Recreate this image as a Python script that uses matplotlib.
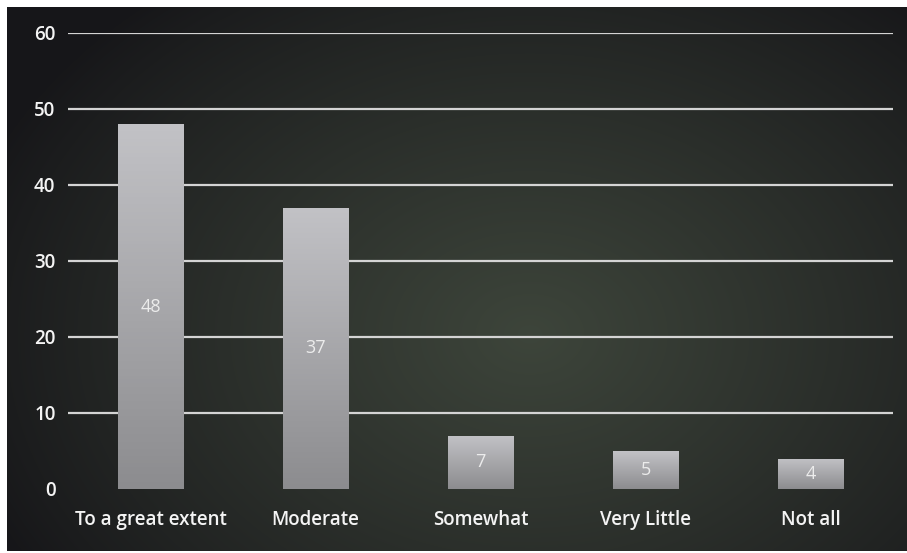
import numpy as np
import matplotlib
matplotlib.use("Agg")
import matplotlib.pyplot as plt

categories = ["To a great extent", "Moderate", "Somewhat", "Very Little", "Not all"]
values = [48, 37, 7, 5, 4]
yticks = [0, 10, 20, 30, 40, 50, 60]

plt.rcParams['font.family'] = ['Open Sans', 'DejaVu Sans']

fig = plt.figure(figsize=(9.07, 5.53), dpi=100, facecolor="white")

# dark panel with a soft greenish glow in the middle
bg = fig.add_axes([7 / 907, 2 / 553, 900 / 907, 544 / 553])
bg.set_axis_off()
h, w = 272, 450
yy, xx = np.mgrid[0:h, 0:w]
r = np.sqrt(((xx - w * 0.58) / (w * 0.65)) ** 2 + ((yy - h * 0.6) / (h * 0.8)) ** 2)
t = np.clip(1 - r, 0, 1) ** 0.9
edge = np.array([0.09, 0.09, 0.10])
center = np.array([0.24, 0.27, 0.23])
img = edge + (center - edge) * t[..., None]
bg.imshow(img, aspect="auto", extent=[0, 1, 0, 1], interpolation="bilinear")
bg.set_xlim(0, 1)
bg.set_ylim(0, 1)

ax = fig.add_axes([68 / 907, 64 / 553, 825 / 907, 456 / 553])
ax.patch.set_alpha(0)
x = np.arange(len(categories))
bars = ax.bar(x, values, width=0.4, color="#a0a0a4", zorder=3)

# vertical grey gradient inside each bar
grad = np.linspace(0.76, 0.55, 100)[:, None]
for b in bars:
    bx, by = b.get_x(), b.get_y()
    bw, bh = b.get_width(), b.get_height()
    im = ax.imshow(np.dstack([grad, grad, grad * 1.02]).clip(0, 1), aspect="auto",
                   extent=[bx, bx + bw, by, by + bh], zorder=3.5)
    im.set_clip_path(b)

for xi, v in zip(x, values):
    ax.text(xi, v / 2, str(v), ha="center", va="center", color="#ececec",
            fontsize=13, zorder=5)

ax.set_xlim(-0.5, len(categories) - 0.5)
ax.set_ylim(0, 60)
ax.set_yticks(yticks)
ax.set_xticks(x)
ax.set_xticklabels(categories, color="#f4f4f4", fontsize=13.5, fontweight="semibold")
ax.tick_params(axis="x", length=0, pad=15)
ax.tick_params(axis="y", length=0, pad=9, labelcolor="#f4f4f4", labelsize=13.5)
for lbl in ax.get_yticklabels():
    lbl.set_fontweight("semibold")
for s in ax.spines.values():
    s.set_visible(False)
for yv in yticks[1:]:
    ax.axhline(yv, color="#d4d4d4", lw=1.6, zorder=2)

fig.savefig("out.png", dpi=100, facecolor="white")
